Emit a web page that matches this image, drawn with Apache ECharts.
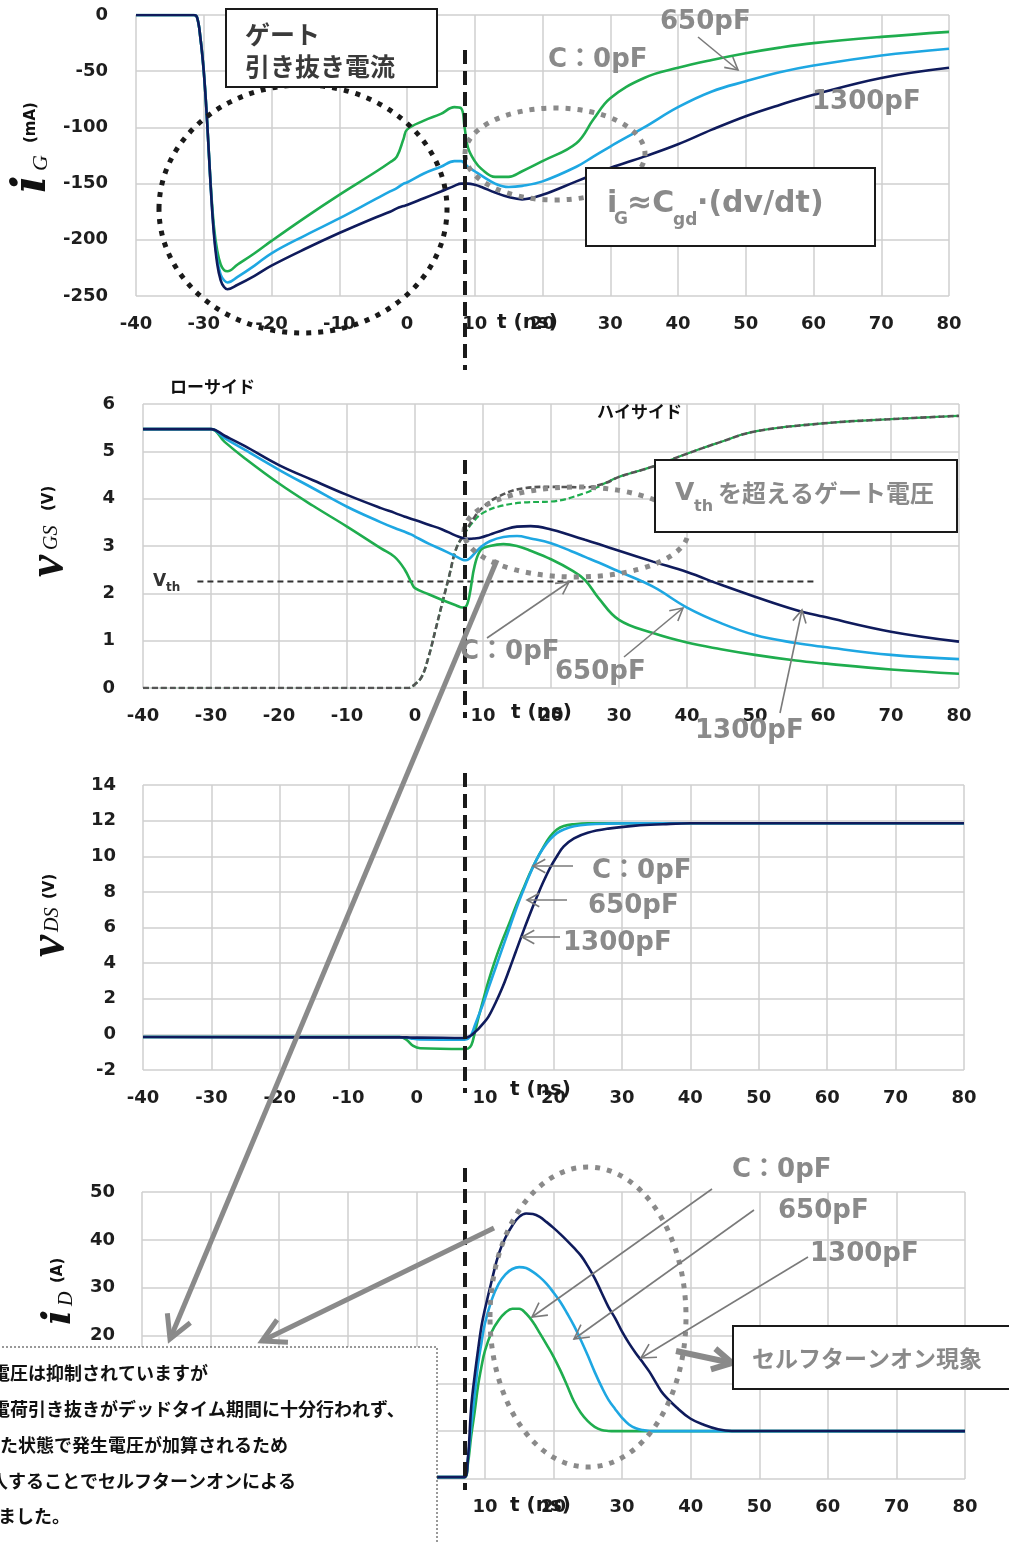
<!DOCTYPE html>
<html>
<head>
<meta charset="utf-8">
<script src="https://cdn.jsdelivr.net/npm/echarts@6/dist/echarts.min.js"></script>
<style>
  html, body { margin: 0; padding: 0; background: #fff; }
  #main { width: 1009px; height: 1543px; }
</style>
</head>
<body>
<div id="main"></div>
<script>
  // ---- iG (mA) ----
  const igT = [-40, -32, -31.5, -31, -30.5, -30, -29.5, -29, -28.5, -28, -27.5, -27, -26.5, -25, -22.5, -20, -15, -10, -5, -2.5, -1.5, -0.5, 0, 2.5, 5, 7, 8, 8.5, 9, 10, 11, 13, 15, 17, 20, 25, 27.5, 30, 35, 40, 45, 50, 55, 60, 70, 80]
  const igC1300 = [0, 0, 0, -2, -20, -50, -95, -150, -195, -222, -236, -242, -244, -240, -232, -223, -208, -194, -181, -175, -172, -170, -169, -163, -157, -152, -150, -150, -150, -151, -153, -158, -162, -164, -160, -148, -142, -136, -126, -115, -102, -90, -80, -71, -56, -47]
  const igC650 = [0, 0, 0, -2, -20, -50, -95, -150, -193, -218, -231, -236, -238, -233, -223, -212, -196, -181, -165, -157, -154, -150, -149, -141, -135, -130, -130, -132, -135, -139, -143, -150, -153, -152, -148, -135, -126, -117, -100, -82, -68, -59, -51, -45, -36, -30]
  const igC0 = [0, 0, 0, -2, -20, -50, -95, -148, -188, -210, -222, -227, -228, -222, -212, -201, -180, -160, -141, -131, -126, -110, -102, -94, -88, -82, -83, -100, -118, -130, -137, -144, -144, -139, -130, -114, -93, -74, -56, -47, -40, -34, -29, -25, -19.5, -15]

  // ---- vGS (V) low side ----
  const vgT = [-40, -30, -28, -25, -20, -15, -10, -5, -3, -1.5, -0.5, 0, 2, 4, 6, 7, 7.5, 8, 8.8, 9.7, 11, 13, 15, 17, 20, 23, 25, 27, 30, 35, 40, 45, 50, 56, 60, 70, 80]
  const vgC1300 = [5.47, 5.47, 5.33, 5.11, 4.71, 4.39, 4.08, 3.8, 3.7, 3.62, 3.57, 3.55, 3.45, 3.35, 3.22, 3.17, 3.15, 3.15, 3.16, 3.18, 3.24, 3.34, 3.41, 3.42, 3.35, 3.22, 3.13, 3.04, 2.9, 2.67, 2.45, 2.18, 1.93, 1.65, 1.51, 1.19, 0.98]
  const vgC650 = [5.47, 5.47, 5.28, 5.03, 4.61, 4.22, 3.83, 3.5, 3.38, 3.3, 3.24, 3.2, 3.05, 2.92, 2.78, 2.71, 2.7, 2.73, 2.85, 2.98, 3.1, 3.19, 3.21, 3.16, 3.06, 2.89, 2.77, 2.65, 2.46, 2.14, 1.7, 1.37, 1.12, 0.95, 0.87, 0.7, 0.61]
  const vgC0 = [5.47, 5.47, 5.2, 4.85, 4.32, 3.85, 3.41, 2.95, 2.77, 2.5, 2.22, 2.11, 1.98, 1.86, 1.75, 1.7, 1.72, 1.95, 2.6, 2.92, 3.0, 3.04, 3.0, 2.9, 2.72, 2.49, 2.28, 1.9, 1.44, 1.16, 0.96, 0.82, 0.7, 0.58, 0.52, 0.39, 0.3]
  // high side (dashed)
  const hsT = [-40, -1, 0, 1, 2, 3, 4, 5, 6, 7, 8.8, 10, 12.2, 16, 20, 25, 28, 30, 35, 40, 45, 50, 60, 70, 80]
  const hsGate = [0, 0, 0.08, 0.24, 0.66, 1.22, 1.79, 2.35, 2.92, 3.2, 3.62, 3.82, 4.04, 4.22, 4.25, 4.24, 4.33, 4.46, 4.68, 4.95, 5.2, 5.42, 5.59, 5.68, 5.75]
  const hsGate0 = [0, 0, 0.08, 0.24, 0.66, 1.22, 1.79, 2.35, 2.92, 3.2, 3.55, 3.7, 3.83, 3.92, 3.94, 4.12, 4.33, 4.46, 4.68, 4.95, 5.2, 5.42, 5.59, 5.68, 5.75]
  const vthT = [-32, 59]
  const vthV = [2.25, 2.25]

  // ---- vDS (V) ----
  const vdT = [-40, -2.5, -1.5, -0.5, 0.5, 7, 7.5, 8, 8.5, 9, 9.7, 10.5, 11.5, 12.5, 13.5, 14.5, 15.5, 16.5, 17.5, 18.5, 19.5, 20.5, 21.5, 23, 25, 28, 32, 36, 40, 80]
  const vdC1300 = [-0.15, -0.17, -0.17, -0.18, -0.18, -0.2, -0.15, -0.05, 0.12, 0.3, 0.6, 1.0, 1.75, 2.6, 3.6, 4.65, 5.7, 6.7, 7.65, 8.55, 9.35, 10.0, 10.55, 11.0, 11.32, 11.55, 11.72, 11.8, 11.85, 11.85]
  const vdC650 = [-0.15, -0.15, -0.18, -0.25, -0.28, -0.3, -0.25, 0.0, 0.5, 1.0, 1.7, 2.6, 3.7, 4.8, 5.9, 7.0, 8.0, 8.95, 9.8, 10.45, 10.95, 11.3, 11.5, 11.68, 11.78, 11.83, 11.85, 11.85, 11.85, 11.85]
  const vdC0 = [-0.15, -0.15, -0.3, -0.65, -0.78, -0.82, -0.8, -0.6, 0.1, 0.9, 1.9, 3.0, 4.2, 5.25, 6.2, 7.2, 8.1, 9.0, 9.8, 10.5, 11.1, 11.5, 11.7, 11.8, 11.85, 11.85, 11.85, 11.85, 11.85, 11.85]

  // ---- iD (A) ----
  const idT = [-40, 7, 7.5, 8, 8.5, 9, 9.5, 10, 11, 12, 13, 14, 15, 16, 17, 18, 19, 20, 21, 22, 23, 24, 25, 26, 27, 28, 29, 30, 31, 32, 33, 34, 35, 36, 38, 40, 42, 44, 46, 80]
  const idC1300 = [-9.6, -9.6, -6, 5, 11.5, 17, 22, 25.5, 31.5, 37, 40.5, 43, 44.8, 45.5, 45.4, 44.8, 43.7, 42.5, 41.2, 39.8, 38.3, 36.7, 34.5, 32, 29, 26, 23.6, 20.8, 18.4, 16.3, 14.4, 12.4, 10, 7.8, 4.9, 2.6, 1.3, 0.4, 0.05, 0]
  const idC650 = [-9.6, -9.6, -6, 1, 7.5, 14, 18.5, 22.5, 27.5, 30.8, 32.8, 33.9, 34.3, 34.1, 33.3, 32.2, 30.8, 29, 27, 24.6, 22, 19, 15.8, 12.4, 9.3, 6.6, 4.6, 2.8, 1.4, 0.6, 0.25, 0.05, 0, 0, 0, 0, 0, 0, 0, 0]
  const idC0 = [-9.6, -9.6, -7, -1, 4, 9.5, 13.5, 16.8, 20.8, 23.2, 24.8, 25.6, 25.6, 24.6, 22.8, 20.5, 18.1, 15.6, 12.7, 9.5, 6.2, 3.8, 2.1, 0.9, 0.25, 0.05, 0, 0, 0, 0, 0, 0, 0, 0, 0, 0, 0, 0, 0, 0]

  const GREEN = '#1fad4e', BLUE = '#1ea7e2', NAVY = '#0f1b5c'
  const GRAY = '#8a8a8a'
  const NUM = '"DejaVu Sans", "Noto Sans CJK JP"'
  const JP = '"Noto Sans CJK JP"'

  function pairs(t, v) { return t.map((x, i) => [x, v[i]]) }

  function line(gi, t, v, color, extra) {
    return Object.assign({
      type: 'line', xAxisIndex: gi, yAxisIndex: gi, data: pairs(t, v),
      symbol: 'none', smooth: 0.4, silent: true,
      lineStyle: { color: color, width: 2.6 }, z: 3
    }, extra || {})
  }

  function xAx(gi) {
    return {
      gridIndex: gi, type: 'value', min: -40, max: 80, interval: 10,
      axisLine: { show: false }, axisTick: { show: false },
      axisLabel: { margin: 19, color: '#1e1e1e', fontWeight: 'bold', fontSize: 18, fontFamily: 'DejaVu Sans' },
      splitLine: { lineStyle: { color: '#cfcfcf', width: 1.5 } }
    }
  }
  function yAx(gi, min, max, step, margin) {
    return {
      gridIndex: gi, type: 'value', min: min, max: max, interval: step,
      axisLine: { show: false }, axisTick: { show: false },
      axisLabel: { margin: margin, color: '#1e1e1e', fontWeight: 'bold', fontSize: 18, fontFamily: 'DejaVu Sans' },
      splitLine: { lineStyle: { color: '#cfcfcf', width: 1.5 } }
    }
  }

  // ---- annotation helpers ----
  function txt(x, y, s, font, fill, z) {
    return { type: 'text', x: x, y: y, z: z || 20, silent: true,
      style: { text: s, font: font, fill: fill, textAlign: 'left', textVerticalAlign: 'middle', align: 'left', verticalAlign: 'middle' } }
  }
  function seg(x1, y1, x2, y2, color, w, dash, z) {
    return { type: 'line', z: z || 15, silent: true, shape: { x1: x1, y1: y1, x2: x2, y2: y2 },
      style: { stroke: color, lineWidth: w, lineDash: dash || null } }
  }
  function arrow(x1, y1, x2, y2, color, w, head, z) {
    const a = Math.atan2(y2 - y1, x2 - x1)
    const sp = 0.5
    const p1 = [x2 - head * Math.cos(a - sp), y2 - head * Math.sin(a - sp)]
    const p2 = [x2 - head * Math.cos(a + sp), y2 - head * Math.sin(a + sp)]
    return [
      seg(x1, y1, x2, y2, color, w, null, z),
      { type: 'polyline', z: z || 15, silent: true, shape: { points: [p1, [x2, y2], p2] },
        style: { stroke: color, lineWidth: w, fill: 'none', lineJoin: 'miter' } }
    ]
  }
  function ell(cx, cy, rx, ry, color, z) {
    return { type: 'ellipse', z: z || 12, silent: true, shape: { cx: cx, cy: cy, rx: rx, ry: ry },
      style: { fill: 'none', stroke: color, lineWidth: 5, lineDash: [5, 7] } }
  }
  function box(x, y, w, h, z) {
    return { type: 'rect', z: z || 16, silent: true, shape: { x: x, y: y, width: w, height: h },
      style: { fill: '#fff', stroke: '#1a1a1a', lineWidth: 2 } }
  }
  // rotated axis title: [text, font, offset along, offset across]
  function yTitle(x, y, parts) {
    return { type: 'group', x: x, y: y, rotation: Math.PI / 2, z: 20, silent: true,
      children: parts.map(p => ({ type: 'text', x: p[2], y: p[3], z: 20,
        style: { text: p[0], font: p[1], fill: '#111', textAlign: 'left', textVerticalAlign: 'middle', align: 'left', verticalAlign: 'middle' } })) }
  }

  const lbl = 'bold 26px ' + NUM
  const tns = 'bold 20px "DejaVu Sans"'
  const dashV = [14, 7]

  let g = []
  // chart 1
  g.push(ell(303, 209, 144, 124, '#1a1a1a', 12))
  g.push(box(226, 9, 211, 78))
  g.push(txt(245, 34, 'ゲート', 'bold 25px ' + JP, '#3a3a3a'))
  g.push(txt(245, 66, '引き抜き電流', 'bold 25px ' + JP, '#3a3a3a'))
  g.push(ell(555, 154, 90, 46, GRAY, 12))
  g.push(box(586, 168, 289, 78))
  g.push(txt(607, 204, 'i', 'bold 30px ' + NUM, GRAY))
  g.push(txt(614, 220, 'G', 'bold 17px ' + NUM, GRAY))
  g.push(txt(627, 204, '≈C', 'bold 30px ' + NUM, GRAY))
  g.push(txt(673, 221, 'gd', 'bold 17px ' + NUM, GRAY))
  g.push(txt(697, 204, '·(dv/dt)', 'bold 30px ' + NUM, GRAY))
  g.push(txt(660, 22, '650pF', lbl, GRAY))
  g.push(txt(548, 60, 'C：0pF', lbl, GRAY))
  g.push(txt(812, 102, '1300pF', lbl, GRAY))
  g = g.concat(arrow(698, 37, 738, 70, '#7a7a7a', 1.6, 14))
  g.push(txt(497, 323, 't (ns)', tns, '#1a1a1a'))
  g.push(seg(465, 50, 465, 370, '#1a1a1a', 4, dashV, 14))
  g.push(yTitle(33, 193, [['i', 'italic bold 46px "DejaVu Serif"', 0, 0], ['G', 'italic 22px "Liberation Serif"', 22, 8], ['(mA)', 'bold 15px "DejaVu Sans"', 50, -2]]))

  // chart 2
  g.push(txt(170, 387, 'ローサイド', 'bold 17px ' + JP, '#111'))
  g.push(txt(597, 412, 'ハイサイド', 'bold 17px ' + JP, '#111'))
  g.push(ell(576, 532, 112, 45, GRAY, 12))
  g.push(box(655, 460, 302, 72))
  g.push(txt(675, 493, 'V', 'bold 25px ' + NUM, GRAY))
  g.push(txt(694, 507, 'th', 'bold 16px ' + NUM, GRAY))
  g.push(txt(718, 493, 'を超えるゲート電圧', 'bold 24px ' + JP, GRAY))
  g.push(txt(153, 582, 'V', 'bold 17px ' + NUM, '#333'))
  g.push(txt(166, 588, 'th', 'bold 12px ' + NUM, '#333'))
  g.push(txt(460, 652, 'C：0pF', lbl, GRAY))
  g.push(txt(555, 672, '650pF', lbl, GRAY))
  g.push(txt(695, 731, '1300pF', lbl, GRAY))
  g = g.concat(arrow(487, 638, 569, 582, '#7a7a7a', 1.6, 14))
  g = g.concat(arrow(624, 657, 683, 608, '#7a7a7a', 1.6, 14))
  g = g.concat(arrow(780, 713, 802, 610, '#7a7a7a', 1.6, 14))
  g.push(txt(511, 713, 't (ns)', tns, '#1a1a1a'))
  g.push(seg(465, 460, 465, 718, '#1a1a1a', 4, dashV, 14))
  g.push(yTitle(49, 577, [['v', 'italic bold 50px "Liberation Serif"', 0, 0], ['GS', 'italic 20px "Liberation Serif"', 27, 3], ['(V)', 'bold 15px "DejaVu Sans"', 66, 0]]))

  // chart 3
  g.push(txt(592, 871, 'C：0pF', lbl, GRAY))
  g.push(txt(588, 906, '650pF', lbl, GRAY))
  g.push(txt(563, 943, '1300pF', lbl, GRAY))
  g = g.concat(arrow(573, 866, 533, 866, '#7a7a7a', 1.6, 14))
  g = g.concat(arrow(567, 900, 527, 900, '#7a7a7a', 1.6, 14))
  g = g.concat(arrow(560, 937, 522, 937, '#7a7a7a', 1.6, 14))
  g.push(txt(510, 1090, 't (ns)', tns, '#1a1a1a'))
  g.push(seg(465, 773, 465, 1093, '#1a1a1a', 4, dashV, 14))
  g.push(yTitle(50, 957, [['v', 'italic bold 50px "Liberation Serif"', 0, 0], ['DS', 'italic 20px "Liberation Serif"', 25, 3], ['(V)', 'bold 15px "DejaVu Sans"', 58, 0]]))

  // chart 4
  g.push(ell(588, 1317, 98, 150, GRAY, 12))
  g.push(txt(732, 1170, 'C：0pF', lbl, GRAY))
  g.push(txt(778, 1211, '650pF', lbl, GRAY))
  g.push(txt(810, 1254, '1300pF', lbl, GRAY))
  g = g.concat(arrow(712, 1189, 532, 1317, '#7a7a7a', 1.6, 16))
  g = g.concat(arrow(754, 1210, 574, 1339, '#7a7a7a', 1.6, 16))
  g = g.concat(arrow(808, 1257, 641, 1358, '#7a7a7a', 1.6, 16))
  g.push(box(733, 1326, 278, 63))
  g.push(txt(752, 1358, 'セルフターンオン現象', 'bold 23px ' + JP, GRAY))
  g = g.concat(arrow(676, 1351, 732, 1363, GRAY, 6, 22))
  g.push(txt(510, 1506, 't (ns)', tns, '#1a1a1a'))
  g.push(seg(465, 1168, 465, 1490, '#1a1a1a', 4, dashV, 14))
  g.push(yTitle(60, 1325, [['i', 'italic bold 40px "DejaVu Serif"', 0, 0], ['D', 'italic 20px "Liberation Serif"', 19, 7], ['(A)', 'bold 15px "DejaVu Sans"', 42, -2]]))

  // big arrows
  g = g.concat(arrow(497, 560, 170, 1339, GRAY, 5, 26, 17))
  g = g.concat(arrow(494, 1228, 262, 1341, GRAY, 5, 26, 17))

  // bottom-left note
  g.push({ type: 'rect', z: 18, silent: true, shape: { x: -2, y: 1347, width: 439, height: 200 },
    style: { fill: '#fff', stroke: '#333', lineWidth: 1, lineDash: [2, 2] } })
  const note = 'bold 18px ' + JP
  g.push(txt(-8, 1373, '電圧は抑制されていますが', note, '#111', 19))
  g.push(txt(-8, 1409, '電荷引き抜きがデッドタイム期間に十分行われず、', note, '#111', 19))
  g.push(txt(0, 1445, 'た状態で発生電圧が加算されるため', note, '#111', 19))
  g.push(txt(-10, 1481, '入することでセルフターンオンによる', note, '#111', 19))
  g.push(txt(-2, 1516, 'ました。', note, '#111', 19))

  const option = {
    animation: false,
    backgroundColor: '#fff',
    grid: [
      { left: 136, top: 15, width: 813, height: 281 },
      { left: 143, top: 404, width: 816, height: 284 },
      { left: 143, top: 785, width: 821, height: 285 },
      { left: 142, top: 1192, width: 823, height: 287 }
    ],
    xAxis: [xAx(0), xAx(1), xAx(2), xAx(3)],
    yAxis: [
      yAx(0, -250, 0, 50, 28),
      yAx(1, 0, 6, 1, 28),
      yAx(2, -2, 14, 2, 27),
      yAx(3, -10, 50, 10, 27)
    ],
    series: [
      line(0, igT, igC0, GREEN),
      line(0, igT, igC650, BLUE),
      line(0, igT, igC1300, NAVY),

      line(1, vthT, vthV, '#333', { smooth: false, lineStyle: { color: '#333', width: 1.8, type: [6, 4] } }),
      line(1, hsT, hsGate0, GREEN, { lineStyle: { color: GREEN, width: 2.2, type: [6, 3] } }),
      line(1, hsT, hsGate, '#555', { lineStyle: { color: '#555', width: 2.6, type: [6, 3] } }),
      line(1, vgT, vgC0, GREEN),
      line(1, vgT, vgC650, BLUE),
      line(1, vgT, vgC1300, NAVY),

      line(2, vdT, vdC0, GREEN),
      line(2, vdT, vdC650, BLUE),
      line(2, vdT, vdC1300, NAVY),

      line(3, idT, idC0, GREEN),
      line(3, idT, idC650, BLUE),
      line(3, idT, idC1300, NAVY)
    ],
    graphic: { elements: g }
  }

  const chart = echarts.init(document.getElementById('main'), null, { renderer: 'canvas' })
  chart.setOption(option)
</script>
</body>
</html>
